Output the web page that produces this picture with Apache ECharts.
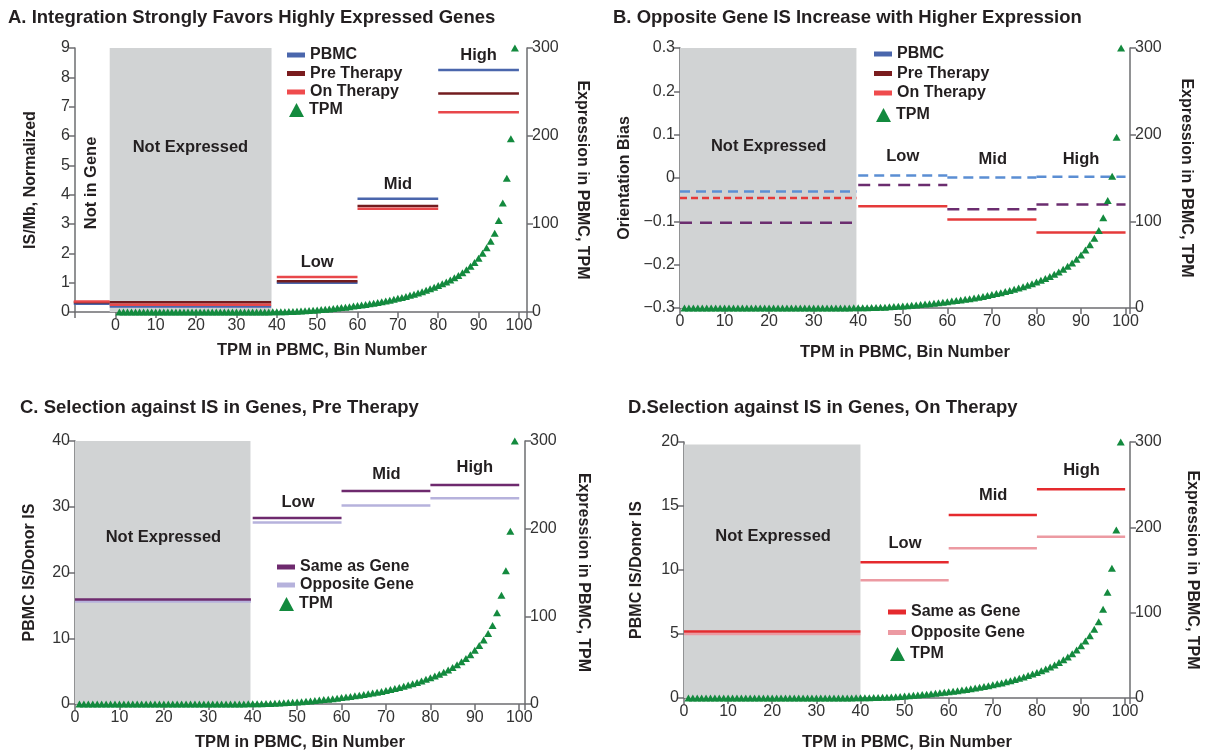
<!DOCTYPE html>
<html>
<head>
<meta charset="utf-8">
<title>Integration sites by expression bin</title>
<script src="https://cdn.jsdelivr.net/npm/echarts@6/dist/echarts.min.js"></script>
<style>
  html, body { margin: 0; padding: 0; background: #fff; }
  #main { width: 1208px; height: 753px; }
</style>
</head>
<body>
<div id="main"></div>
<script>
// TPM in PBMC, one value per expression bin (bins 1..99)
var tpmValues = [
  0, 0, 0, 0, 0, 0, 0, 0, 0, 0,
  0, 0, 0, 0, 0, 0, 0, 0, 0, 0,
  0, 0, 0, 0, 0, 0, 0, 0, 0, 0,
  0, 0, 0, 0, 0, 0.05, 0.08, 0.1, 0.15, 0.2,
  0.3, 0.4, 0.5, 0.65, 0.8, 1.0, 1.3, 1.6, 1.9, 2.3,
  2.7, 3.1, 3.5, 4.0, 4.5, 5.0, 5.5, 6.1, 6.7, 7.3,
  8.0, 8.6, 9.3, 10.0, 10.8, 11.6, 12.5, 13.4, 14.4, 15.5,
  16.6, 17.7, 18.9, 20.2, 21.6, 23.0, 24.6, 26.3, 28.1, 30.0,
  32.0, 34.0, 36.3, 38.8, 41.6, 44.7, 48.1, 52.0, 56.3, 61.2,
  66.8, 73.0, 80.5, 89.5, 104, 124, 152, 197, 300
];

// bin ranges of the groups: Not in Gene, Not Expressed, Low, Mid, High
var aRanges = [[-10.3, -1.4], [-1.4, 38.6], [40, 60], [60, 80], [80, 100]];
// Not Expressed, Low, Mid, High
var bRanges = [[0, 39.6], [40, 60], [60, 80], [80, 100]];
var cRanges = [[0, 39.6], [40, 60], [60, 80], [80, 100]];
var dRanges = [[0, 40], [40, 60], [60, 80], [80, 100]];

// A. IS/Mb, normalized
var aPbmc = [0.28, 0.19, 1.00, 3.86, 8.25];
var aPre  = [0.33, 0.33, 1.05, 3.61, 7.45];
var aOn   = [0.36, 0.25, 1.19, 3.52, 6.81];

// B. orientation bias
var bPbmc = [-0.031, 0.006, 0.001, 0.003];
var bPre  = [-0.103, -0.016, -0.072, -0.061];
var bOn   = [-0.046, -0.065, -0.096, -0.126];

// C. PBMC IS / donor IS, pre therapy
var cSame = [15.9, 28.3, 32.4, 33.3];
var cOpp  = [15.6, 27.6, 30.2, 31.3];

// D. PBMC IS / donor IS, on therapy
var dSame = [5.2, 10.6, 14.3, 16.3];
var dOpp  = [5.0, 9.2, 11.7, 12.6];

var FONT = "'Liberation Sans', Arial, sans-serif";
var INK = '#231f20';
var AXIS = '#6d6e71';
var GREY = '#d1d3d4';
var TPM_GREEN = '#138a3e';

var grids = [
  {left: 75,  top: 48,  width: 452, height: 264},
  {left: 680, top: 48,  width: 450, height: 260},
  {left: 75,  top: 441, width: 450, height: 263},
  {left: 684, top: 442, width: 446, height: 256}
];

function xAxisFor(i, min, max, gap, shift) {
  return {
    type: 'value', gridIndex: i, min: min, max: max, interval: 10,
    name: 'TPM in PBMC, Bin Number', nameLocation: 'middle', nameGap: gap,
    nameTextStyle: {fontFamily: FONT, fontSize: 16.5, fontWeight: 'bold', color: INK,
      padding: [0, 0, 0, shift || 0]},
    axisLine: {show: true, onZero: false, lineStyle: {color: AXIS, width: 1.5}},
    axisTick: {show: true, length: 6, lineStyle: {color: AXIS, width: 1.5}},
    axisLabel: {
      fontFamily: FONT, fontSize: 16, color: '#333', margin: 6,
      formatter: function (v) { return (v < 0 || v > 100) ? '' : String(v); }
    },
    splitLine: {show: false}
  };
}

function yAxisFor(i, side, min, max, step, name, gap, fmt) {
  return {
    type: 'value', gridIndex: i, position: side, min: min, max: max, interval: step,
    name: name, nameLocation: 'middle', nameGap: gap,
    nameRotate: side === 'right' ? -90 : 90,
    nameTextStyle: {fontFamily: FONT, fontSize: 16, fontWeight: 'bold', color: INK},
    axisLine: {show: true, onZero: false, lineStyle: {color: AXIS, width: 1.5}},
    axisTick: {show: true, length: 6, lineStyle: {color: AXIS, width: 1.5}},
    axisLabel: {fontFamily: FONT, fontSize: 16, color: '#333', margin: 5, formatter: fmt},
    splitLine: {show: false}
  };
}

function biasLabel(v) {
  var r = Math.round(v * 10) / 10;
  if (r === 0) return '0';
  return (r < 0 ? '\u2212' : '') + Math.abs(r).toFixed(1);
}

// one flat line per group range
function steps(name, values, ranges, axis, styleOf) {
  var out = [];
  for (var k = 0; k < values.length; k++) {
    out.push({
      name: name, type: 'line', xAxisIndex: axis, yAxisIndex: axis * 2,
      data: [[ranges[k][0], values[k]], [ranges[k][1], values[k]]],
      showSymbol: false, symbol: 'none', silent: true, z: 3,
      lineStyle: styleOf(k)
    });
  }
  return out;
}

function tpmSeries(axis) {
  var pts = [];
  for (var i = 0; i < tpmValues.length; i++) pts.push([i + 1, tpmValues[i]]);
  return {
    name: 'TPM', type: 'scatter', xAxisIndex: axis, yAxisIndex: axis * 2 + 1,
    data: pts, symbol: 'triangle', symbolSize: [8, 7], silent: true, z: 4,
    itemStyle: {color: TPM_GREEN, opacity: 1}
  };
}

function greyBand(axis, from, to, top) {
  return {
    type: 'line', xAxisIndex: axis, yAxisIndex: axis * 2, data: [], z: 1, silent: true,
    markArea: {
      silent: true, itemStyle: {color: GREY, opacity: 1},
      data: [[{xAxis: from, yAxis: top[0]}, {xAxis: to, yAxis: top[1]}]]
    }
  };
}

// text notes in data coordinates
function notes(axis, list) {
  return {
    type: 'scatter', xAxisIndex: axis, yAxisIndex: axis * 2, symbolSize: 0, silent: true, z: 5,
    itemStyle: {opacity: 1},
    data: list.map(function (n) {
      return {
        value: [n[1], n[2]], name: n[0],
        label: {rotate: n[3] || 0}
      };
    }),
    label: {
      show: true, position: 'inside', formatter: '{b}', opacity: 1,
      fontFamily: FONT, fontSize: 16.5, fontWeight: 'bold', color: INK
    }
  };
}

function lineLegend(items, left, top, gap) {
  return {
    orient: 'vertical', left: left, top: top, padding: 0, itemGap: gap,
    itemWidth: 18, itemHeight: 5, selectedMode: false,
    textStyle: {fontFamily: FONT, fontSize: 16, fontWeight: 'bold', color: INK},
    data: items.map(function (it) {
      return {name: it[0], icon: 'rect', itemStyle: {color: it[1], borderWidth: 0, opacity: 1}};
    })
  };
}

function tpmLegend(left, top) {
  return {
    orient: 'vertical', left: left, top: top, padding: 0,
    itemWidth: 15, itemHeight: 14, selectedMode: false,
    textStyle: {fontFamily: FONT, fontSize: 16, fontWeight: 'bold', color: INK},
    data: [{name: 'TPM', icon: 'triangle', itemStyle: {color: TPM_GREEN, opacity: 1}}]
  };
}

function solid(color, w) { return function () { return {color: color, width: w || 2.5, type: 'solid'}; }; }
function dashed(color, pattern) { return function () { return {color: color, width: 2.5, type: pattern}; }; }

var series = [];
series.push(greyBand(0, -1.4, 38.7, [0, 9]));
series.push(greyBand(1, 0, 39.6, [-0.3, 0.3]));
series.push(greyBand(2, 0, 39.5, [0, 40]));
series.push(greyBand(3, 0, 40, [0, 19.8]));

// A
series = series.concat(
  steps('PBMC', aPbmc, aRanges, 0, solid('#4a66ac')),
  steps('Pre Therapy', aPre, aRanges, 0, solid('#731c1f')),
  steps('On Therapy', aOn, aRanges, 0, solid('#e8474a'))
);
// B
series = series.concat(
  steps('PBMC', bPbmc, bRanges, 1, dashed('#5b8ed3', [10, 6])),
  steps('Pre Therapy', bPre, bRanges, 1, dashed('#6b2d6f', [12, 8])),
  steps('On Therapy', bOn, bRanges, 1, function (k) {
    return k === 0 ? {color: '#e53a3a', width: 2.5, type: [7, 4]} : {color: '#e53a3a', width: 2.5, type: 'solid'};
  })
);
// C
series = series.concat(
  steps('Opposite Gene', cOpp, cRanges, 2, solid('#b6b2dc')),
  steps('Same as Gene', cSame, cRanges, 2, solid('#6e2a6e'))
);
// D
series = series.concat(
  steps('Opposite Gene', dOpp, dRanges, 3, solid('#ec9aa2')),
  steps('Same as Gene', dSame, dRanges, 3, solid('#e52a2e'))
);

series.push(tpmSeries(0), tpmSeries(1), tpmSeries(2), tpmSeries(3));

series.push(notes(0, [['Not in Gene', -5.8, 4.4, 90], ['Not Expressed', 18.6, 5.6], ['Low', 50, 1.7], ['Mid', 70, 4.35], ['High', 90, 8.75]]));
series.push(notes(1, [['Not Expressed', 19.9, 0.073], ['Low', 50, 0.05], ['Mid', 70.2, 0.042], ['High', 90, 0.042]]));
series.push(notes(2, [['Not Expressed', 19.9, 25.3], ['Low', 50.2, 30.7], ['Mid', 70.1, 34.9], ['High', 90, 36.0]]));
series.push(notes(3, [['Not Expressed', 20.2, 12.6], ['Low', 50.1, 12.1], ['Mid', 70.1, 15.8], ['High', 90.1, 17.8]]));

var titleStyle = {fontFamily: FONT, fontSize: 18.5, fontWeight: 'bold', color: INK};

var option = {
  animation: false,
  backgroundColor: '#fff',
  title: [
    {text: 'A. Integration Strongly Favors Highly Expressed Genes', left: 8, top: 8, padding: 0, textStyle: titleStyle},
    {text: 'B. Opposite Gene IS Increase with Higher Expression', left: 613, top: 8, padding: 0, textStyle: titleStyle},
    {text: 'C. Selection against IS in Genes, Pre Therapy', left: 20, top: 398, padding: 0, textStyle: titleStyle},
    {text: 'D.Selection against IS in Genes, On Therapy', left: 628, top: 398, padding: 0, textStyle: titleStyle}
  ],
  legend: [
    lineLegend([['PBMC', '#4a66ac'], ['Pre Therapy', '#7a1c1e'], ['On Therapy', '#ef4b4d']], 287, 47, 2.5),
    tpmLegend(289, 102),
    lineLegend([['PBMC', '#4a66ac'], ['Pre Therapy', '#7a1c1e'], ['On Therapy', '#ef4b4d']], 874, 46, 3.5),
    tpmLegend(876, 107),
    lineLegend([['Same as Gene', '#6e2a6e'], ['Opposite Gene', '#b6b2dc']], 277, 559, 2),
    tpmLegend(279, 596),
    lineLegend([['Same as Gene', '#e52a2e'], ['Opposite Gene', '#ec9aa2']], 888, 604, 4.5),
    tpmLegend(890, 646)
  ],
  grid: grids,
  xAxis: [
    xAxisFor(0, -10, 102, 30, 42),
    xAxisFor(1, 0, 101, 36),
    xAxisFor(2, 0, 101.3, 30),
    xAxisFor(3, 0, 101.1, 36)
  ],
  yAxis: [
    yAxisFor(0, 'left', 0, 9, 1, 'IS/Mb, Normalized', 36),
    yAxisFor(0, 'right', 0, 300, 100, 'Expression in PBMC, TPM', 47),
    yAxisFor(1, 'left', -0.3, 0.3, 0.1, 'Orientation Bias', 47, biasLabel),
    yAxisFor(1, 'right', 0, 300, 100, 'Expression in PBMC, TPM', 48),
    yAxisFor(2, 'left', 0, 40, 10, 'PBMC IS/Donor IS', 37),
    yAxisFor(2, 'right', 0, 300, 100, 'Expression in PBMC, TPM', 50),
    yAxisFor(3, 'left', 0, 20, 5, 'PBMC IS/Donor IS', 39),
    yAxisFor(3, 'right', 0, 300, 100, 'Expression in PBMC, TPM', 54)
  ],
  series: series
};

var chart = echarts.init(document.getElementById('main'), null, {renderer: 'canvas'});
chart.setOption(option);
</script>
</body>
</html>
